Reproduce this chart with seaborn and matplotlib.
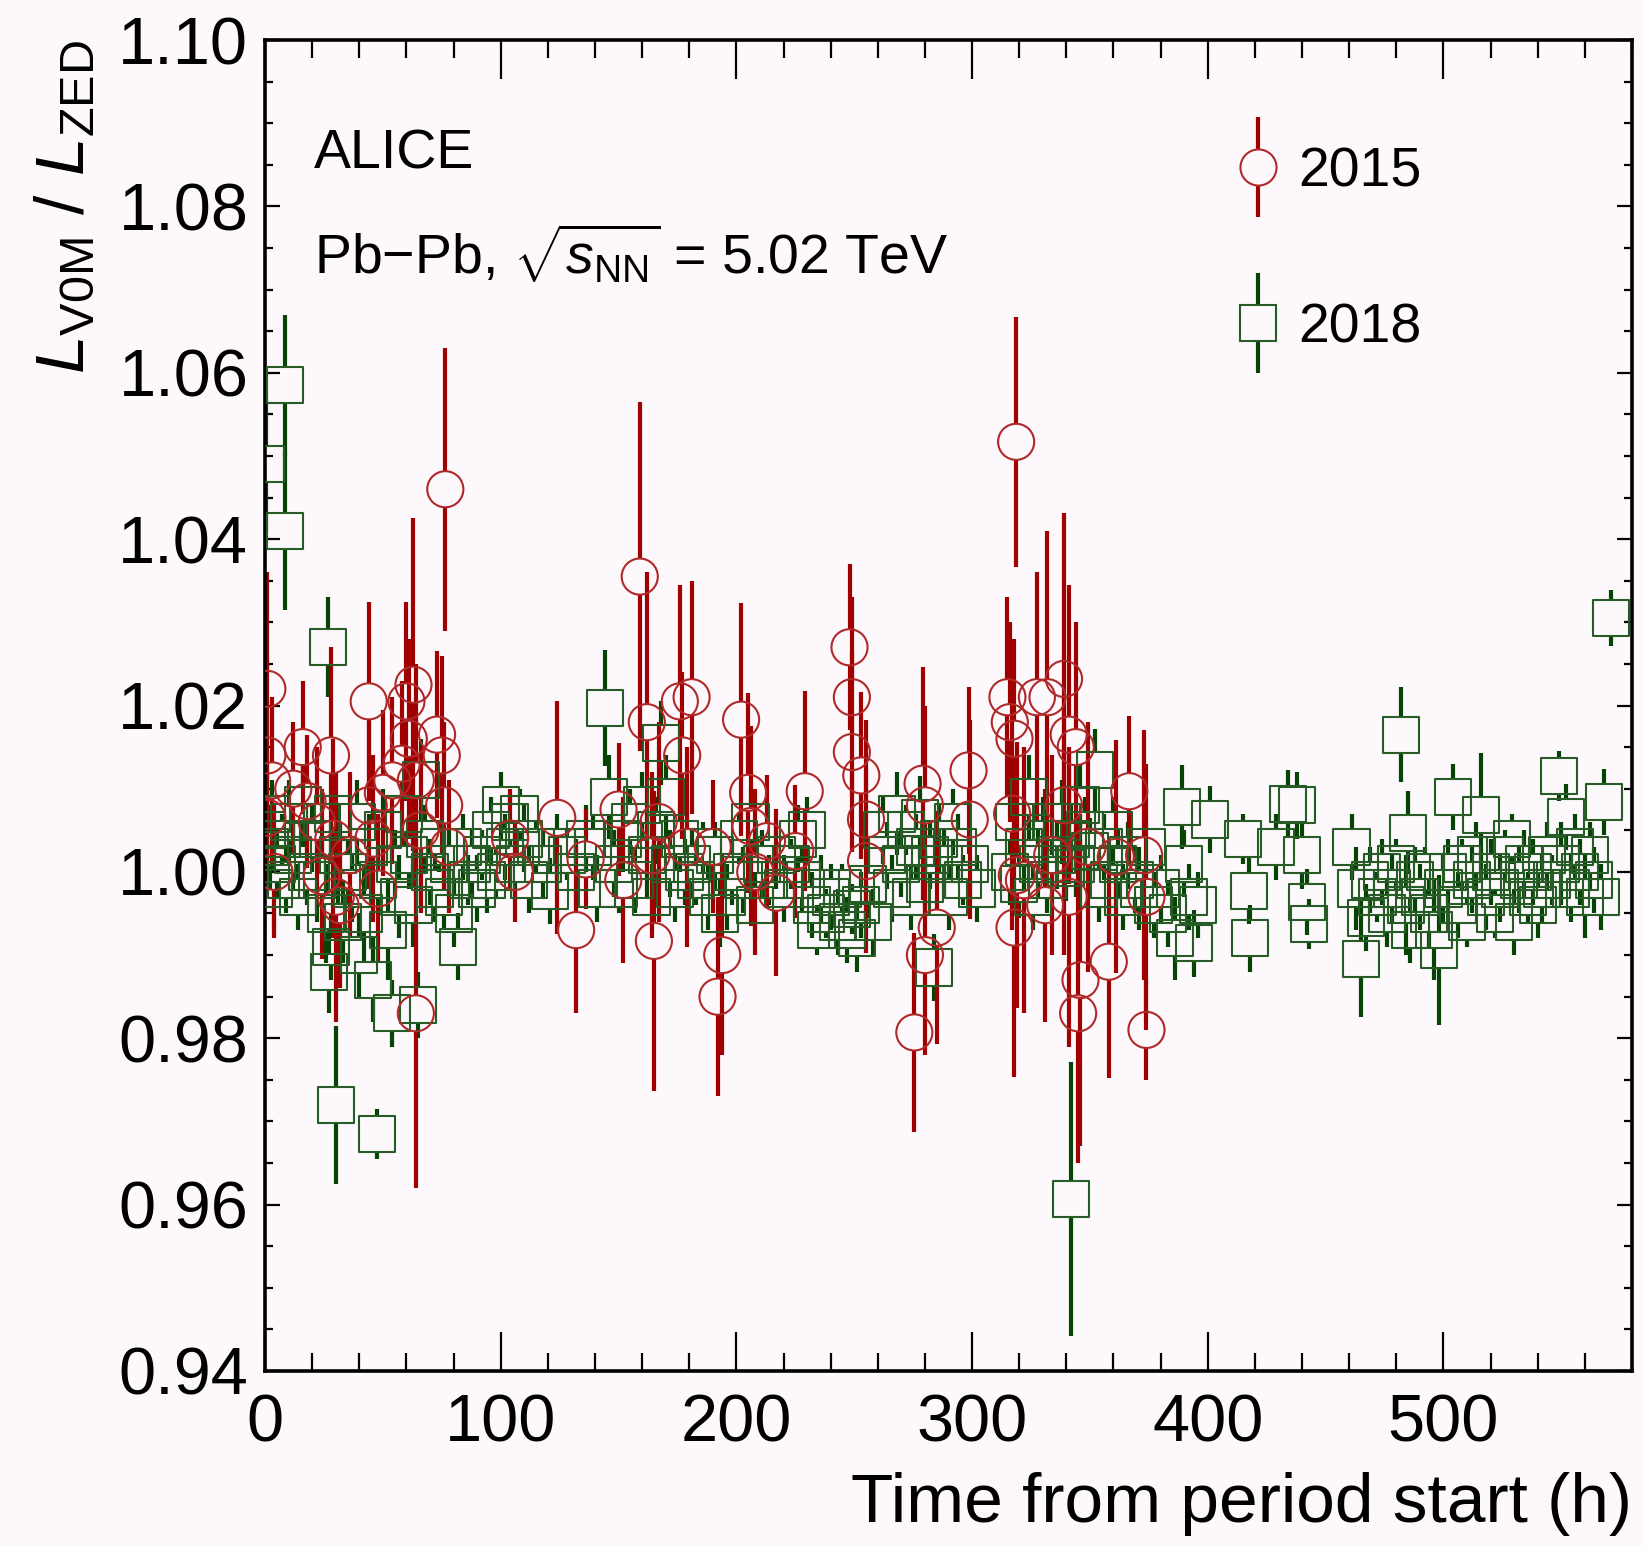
import numpy as np
import matplotlib
matplotlib.use("Agg")
import matplotlib.pyplot as plt
import seaborn as sns
from matplotlib.ticker import MultipleLocator, FormatStrFormatter
from matplotlib.legend_handler import HandlerErrorbar
from matplotlib.container import ErrorbarContainer

# ---------------- data: luminosity ratio V0M / ZED vs time ----------------
hours_2015 = [1, 1, 3, 1, 4, 12, 16, 18, 22, 24,
              28, 29, 30, 32, 36, 44, 44, 46, 48, 50,
              54, 58, 60, 61, 63, 64, 64, 66, 73, 75,
              76, 76.5, 78, 104, 106, 124, 132, 136, 150, 152,
              159, 162, 164, 165, 167, 176, 177, 179, 181, 190,
              192, 194, 202, 205, 206, 208, 213, 217, 225, 229,
              248, 249, 249, 253, 255, 255, 275.5, 279, 280, 280,
              285, 298.5, 299, 318.7, 315, 316, 318, 317, 319, 318,
              322, 327.5, 332, 331, 334, 339, 341, 344, 339, 341,
              346, 345, 349, 358, 361, 366.7, 373, 374, 374]
ratio_2015 = [1.022, 1.014, 1.011, 1.0065, 1.000, 1.010, 1.015, 1.0085, 1.006, 0.9995,
              1.014, 1.004, 0.997, 0.996, 1.002, 1.0205, 1.008, 1.004, 0.998, 1.0095,
              1.011, 1.013, 1.0205, 1.016, 1.0225, 1.011, 0.983, 1.005, 1.0165, 1.014,
              1.008, 1.046, 1.003, 1.004, 1.000, 1.0065, 0.993, 1.0015, 1.0075, 0.999,
              1.0355, 1.018, 1.002, 0.9917, 1.006, 1.0205, 1.014, 1.003, 1.021, 1.003,
              0.985, 0.990, 1.0183, 1.0095, 1.0055, 1.000, 1.0037, 0.9975, 1.0025, 1.0097,
              1.027, 1.021, 1.0144, 1.0116, 1.0063, 1.0013, 0.9807, 1.0106, 1.008, 0.990,
              0.9933, 1.0122, 1.0063, 1.0517, 1.021, 1.018, 1.016, 1.007, 0.9996, 0.9933,
              0.999, 1.021, 1.021, 0.996, 1.002, 1.0232, 1.0165, 1.015, 1.008, 0.997,
              0.987, 0.983, 1.003, 0.9892, 1.0018, 1.0097, 1.002, 0.997, 0.981]
err_2015 = [0.014, 0.012, 0.010, 0.008, 0.008, 0.008, 0.008, 0.008, 0.009, 0.010,
            0.013, 0.012, 0.015, 0.010, 0.010, 0.012, 0.010, 0.010, 0.009, 0.010,
            0.010, 0.010, 0.012, 0.012, 0.020, 0.014, 0.021, 0.010, 0.010, 0.012,
            0.010, 0.017, 0.008, 0.006, 0.006, 0.014, 0.010, 0.006, 0.008, 0.010,
            0.021, 0.018, 0.010, 0.018, 0.012, 0.014, 0.010, 0.012, 0.014, 0.008,
            0.012, 0.012, 0.014, 0.012, 0.012, 0.010, 0.008, 0.010, 0.008, 0.012,
            0.010, 0.012, 0.012, 0.010, 0.012, 0.011, 0.012, 0.014, 0.012, 0.012,
            0.014, 0.010, 0.012, 0.015, 0.012, 0.012, 0.012, 0.014, 0.016, 0.018,
            0.016, 0.015, 0.020, 0.014, 0.012, 0.020, 0.018, 0.015, 0.018, 0.018,
            0.020, 0.018, 0.015, 0.014, 0.014, 0.009, 0.015, 0.016, 0.006]

hours_2018 = [0.5, 8.4, 8.4, 1, 2, 3, 4, 5, 7, 9,
              10, 12, 14, 16, 18, 20, 22, 24, 26, 26.7,
              27, 28, 29, 30, 31, 33, 35, 37, 39, 40,
              42, 44, 46, 47.5, 48, 50, 52, 54, 55, 57,
              59, 61, 63, 65, 66, 68, 70, 72, 74, 76,
              78, 80, 82, 84, 86, 88, 90, 92, 94, 96,
              98, 100, 102, 104, 106, 108, 110, 112, 115, 118,
              121, 124, 128, 132, 136, 139, 141, 144.4, 146, 148,
              150, 152, 155, 157, 160, 162, 164, 166, 168, 170,
              172, 174, 176, 178, 181, 183, 186, 188, 191, 193,
              196, 198, 201, 203, 206, 208, 211, 214, 217, 220,
              223, 226, 228, 230, 232, 234, 236, 238, 240, 243,
              245, 247, 249, 251, 253, 256, 258, 262, 264, 266,
              268, 270, 272, 274, 276, 278, 280, 282, 284, 286,
              288, 290, 292, 294, 296, 299, 302, 316, 318, 320,
              322, 324, 326, 328, 330, 332, 334, 336, 338, 340,
              341.8, 342, 344, 346, 348, 350, 352, 354, 356, 358,
              360, 362, 364, 366, 369, 371, 374, 377, 380, 383,
              386, 389, 390, 392, 394, 396, 401, 415, 417.5, 418,
              429, 434, 438, 440, 442, 443, 461, 463, 465, 467,
              469, 472, 474, 476, 478, 480, 482, 484, 485, 486,
              488, 490, 492, 494, 496, 498, 500, 502, 504, 506,
              508, 510, 512, 514, 516, 518, 520, 522, 524, 526,
              529, 530, 532, 534, 536, 538, 540, 542, 544, 546,
              549, 550, 552, 554, 556, 558, 560, 562, 564, 567,
              568, 571]
ratio_2018 = [1.049, 1.0585, 1.041, 1.005, 1.003, 1.007, 0.998, 1.001, 1.004, 0.999,
              1.006, 1.002, 0.997, 1.008, 1.000, 1.004, 0.999, 1.006, 0.995, 1.027,
              0.988, 0.991, 1.007, 0.972, 1.002, 0.994, 1.000, 0.998, 1.006, 0.990,
              0.995, 1.003, 0.987, 0.9685, 0.999, 1.005, 0.993, 0.983, 1.001, 0.997,
              1.007, 1.002, 0.996, 0.984, 1.011, 1.004, 1.000, 0.998, 1.003, 0.997,
              1.001, 0.995, 0.991, 1.003, 0.999, 1.001, 0.998, 1.002, 0.999, 1.005,
              1.000, 1.008, 1.003, 1.006, 1.001, 1.007, 1.004, 0.999, 1.003, 1.001,
              0.9977, 1.003, 1.002, 1.000, 1.004, 1.003, 0.998, 1.0197, 1.009, 1.001,
              0.998, 1.004, 1.006, 0.999, 1.008, 1.002, 0.997, 1.005, 1.0155, 1.009,
              1.001, 0.998, 1.004, 1.000, 1.001, 0.999, 1.003, 0.997, 1.002, 0.995,
              0.997, 1.000, 1.004, 0.999, 1.006, 0.996, 1.001, 0.999, 1.002, 0.998,
              1.001, 1.004, 0.999, 1.005, 0.996, 0.993, 0.998, 0.995, 0.997, 0.994,
              0.998, 0.993, 0.9955, 0.992, 0.996, 0.9985, 0.994, 1.005, 1.002, 0.998,
              1.007, 1.001, 1.005, 0.997, 1.003, 1.0065, 0.9985, 1.002, 0.9885, 1.004,
              1.001, 0.997, 1.006, 1.003, 0.999, 1.001, 0.998, 1.000, 1.006, 0.9985,
              1.003, 1.009, 0.997, 1.001, 1.004, 0.999, 1.006, 1.002, 1.006, 1.0005,
              0.9607, 1.004, 1.001, 1.008, 1.005, 1.0025, 1.0122, 0.998, 1.003, 0.999,
              1.005, 1.001, 0.997, 1.002, 0.999, 0.998, 1.003, 0.996, 0.998, 0.995,
              0.992, 1.0078, 1.001, 0.997, 0.9914, 0.996, 1.0063, 1.004, 0.9977, 0.992,
              1.003, 1.0082, 1.008, 1.002, 0.9964, 0.9937, 1.003, 0.998, 0.9895, 0.9945,
              0.999, 0.997, 1.000, 0.995, 0.998, 1.001, 1.0165, 0.996, 1.0047, 0.993,
              0.999, 0.997, 1.000, 0.995, 0.993, 0.9906, 0.998, 1.000, 1.009, 0.996,
              1.001, 0.994, 0.999, 1.002, 1.0068, 0.997, 1.000, 0.995, 0.998, 1.002,
              1.004, 0.994, 0.999, 1.001, 0.997, 1.000, 0.996, 0.998, 1.002, 0.999,
              1.0115, 1.001, 1.0066, 0.998, 1.003, 1.000, 0.997, 1.002, 0.999, 0.997,
              1.0084, 1.0305]
err_2018 = [0.008, 0.0085, 0.0095, 0.004, 0.005, 0.004, 0.005, 0.004, 0.003, 0.004,
            0.005, 0.004, 0.004, 0.005, 0.004, 0.004, 0.005, 0.004, 0.006, 0.006,
            0.005, 0.004, 0.005, 0.0095, 0.006, 0.005, 0.004, 0.004, 0.005, 0.005,
            0.006, 0.004, 0.005, 0.003, 0.004, 0.005, 0.006, 0.004, 0.004, 0.005,
            0.004, 0.004, 0.005, 0.004, 0.005, 0.004, 0.004, 0.004, 0.003, 0.004,
            0.004, 0.004, 0.004, 0.004, 0.003, 0.004, 0.004, 0.003, 0.004, 0.004,
            0.003, 0.004, 0.004, 0.003, 0.004, 0.003, 0.004, 0.004, 0.003, 0.004,
            0.004, 0.004, 0.003, 0.004, 0.004, 0.004, 0.004, 0.007, 0.005, 0.004,
            0.003, 0.004, 0.004, 0.004, 0.004, 0.005, 0.004, 0.004, 0.005, 0.005,
            0.004, 0.004, 0.004, 0.004, 0.004, 0.003, 0.003, 0.004, 0.004, 0.004,
            0.004, 0.004, 0.003, 0.004, 0.004, 0.004, 0.004, 0.003, 0.004, 0.004,
            0.003, 0.004, 0.004, 0.004, 0.004, 0.003, 0.004, 0.003, 0.004, 0.004,
            0.003, 0.004, 0.003, 0.004, 0.004, 0.004, 0.004, 0.004, 0.004, 0.004,
            0.005, 0.004, 0.003, 0.004, 0.004, 0.005, 0.004, 0.004, 0.004, 0.004,
            0.004, 0.004, 0.004, 0.004, 0.003, 0.004, 0.004, 0.004, 0.004, 0.004,
            0.005, 0.005, 0.004, 0.004, 0.005, 0.004, 0.004, 0.004, 0.005, 0.004,
            0.0165, 0.004, 0.004, 0.005, 0.004, 0.004, 0.005, 0.004, 0.004, 0.004,
            0.004, 0.004, 0.004, 0.004, 0.004, 0.005, 0.004, 0.004, 0.004, 0.004,
            0.005, 0.005, 0.004, 0.004, 0.004, 0.004, 0.004, 0.003, 0.004, 0.004,
            0.004, 0.004, 0.004, 0.004, 0.004, 0.003, 0.004, 0.005, 0.007, 0.004,
            0.004, 0.003, 0.004, 0.004, 0.004, 0.003, 0.0057, 0.006, 0.005, 0.004,
            0.004, 0.004, 0.003, 0.004, 0.006, 0.009, 0.004, 0.004, 0.004, 0.004,
            0.003, 0.003, 0.004, 0.004, 0.0075, 0.004, 0.004, 0.003, 0.004, 0.003,
            0.003, 0.004, 0.004, 0.004, 0.003, 0.004, 0.004, 0.004, 0.004, 0.003,
            0.003, 0.005, 0.004, 0.004, 0.004, 0.004, 0.005, 0.004, 0.004, 0.004,
            0.004, 0.0034]

years = ["2015", "2018"]
x_ticks = [0, 100, 200, 300, 400, 500]
y_ticks = [0.94, 0.96, 0.98, 1.00, 1.02, 1.04, 1.06, 1.08, 1.10]

# ---------------- style ----------------
sns.set_theme(style="ticks")
plt.rcParams["font.family"] = ["Liberation Sans", "DejaVu Sans"]
plt.rcParams["mathtext.fontset"] = "custom"
plt.rcParams["mathtext.rm"] = "Liberation Sans"
plt.rcParams["mathtext.it"] = "Liberation Sans:italic"
plt.rcParams["mathtext.bf"] = "Liberation Sans:bold"
plt.rcParams["axes.unicode_minus"] = True
plt.rcParams["text.color"] = "black"
plt.rcParams["axes.labelcolor"] = "black"
plt.rcParams["legend.labelcolor"] = "black"

BG = "#fdf8fc"
RED = "#a00000"
RED_EDGE = "#b02828"
GREEN = "#064406"
GREEN_EDGE = "#275c27"
MS = 26          # marker size in points
LW_BAR = 3.0
LW_EDGE = 1.5

fig = plt.figure(figsize=(16.44, 15.46), dpi=100, facecolor=BG)
ax = fig.add_axes([0.1612, 0.1132, 0.8315, 0.8609])
ax.set_facecolor(BG)
ax.set_xlim(0, 580)
ax.set_ylim(y_ticks[0], y_ticks[-1])

# half marker size expressed in data units: error bars start at the marker edge
px_per_unit = (ax.transData.transform((0, 1.0))[1] - ax.transData.transform((0, 0.99))[1]) / 0.01
gap = (MS / 2 * fig.dpi / 72) / px_per_unit


def draw_bars(h, r, e, color):
    h, r, e = map(np.asarray, (h, r, e))
    m = e > gap
    ax.vlines(h[m], r[m] + gap, r[m] + e[m], color=color, lw=LW_BAR, zorder=2)
    ax.vlines(h[m], r[m] - e[m], r[m] - gap, color=color, lw=LW_BAR, zorder=2)


draw_bars(hours_2018, ratio_2018, err_2018, GREEN)
sns.scatterplot(x=hours_2018, y=ratio_2018, marker="s", s=MS ** 2, color=GREEN_EDGE,
                facecolor="none", edgecolor=GREEN_EDGE, linewidth=LW_EDGE,
                ax=ax, zorder=3, legend=False)
draw_bars(hours_2015, ratio_2015, err_2015, RED)
sns.scatterplot(x=hours_2015, y=ratio_2015, marker="o", s=MS ** 2, color=RED_EDGE,
                facecolor="none", edgecolor=RED_EDGE, linewidth=LW_EDGE,
                ax=ax, zorder=4, legend=False)

# legend entries: marker with a vertical error bar
h15 = ax.errorbar([np.nan], [np.nan], yerr=[0.01], fmt="o", ms=MS, mfc=BG, mec=RED_EDGE,
                  mew=LW_EDGE, ecolor=RED, elinewidth=LW_BAR, capsize=0, label=years[0])
h18 = ax.errorbar([np.nan], [np.nan], yerr=[0.01], fmt="s", ms=MS, mfc=BG, mec=GREEN_EDGE,
                  mew=LW_EDGE, ecolor=GREEN, elinewidth=LW_BAR, capsize=0, label=years[1])
leg = ax.legend(handles=[h15, h18],
                handler_map={ErrorbarContainer: HandlerErrorbar(yerr_size=0.9)},
                loc="upper left", bbox_to_anchor=(0.69, 0.937), frameon=False, fontsize=40,
                handlelength=1.0, handletextpad=0.22, labelspacing=1.88, borderaxespad=0)
for t in leg.get_texts():
    t.set_color("black")

ax.set_xlim(0, 580)
ax.set_ylim(y_ticks[0], y_ticks[-1])

# axes, ticks
ax.set_xticks(x_ticks)
ax.set_yticks(y_ticks)
ax.xaxis.set_minor_locator(MultipleLocator(20))
ax.yaxis.set_minor_locator(MultipleLocator(0.005))
ax.yaxis.set_major_formatter(FormatStrFormatter("%.2f"))
ax.tick_params(axis="x", which="major", direction="in", length=28, width=1.6,
               top=True, bottom=True, labelsize=48, pad=16, colors="black")
ax.tick_params(axis="x", which="minor", direction="in", length=13, width=1.6,
               top=True, bottom=True, colors="black")
ax.tick_params(axis="y", which="major", direction="in", length=11, width=1.6,
               left=True, right=True, labelsize=48, pad=12, colors="black")
ax.tick_params(axis="y", which="minor", direction="in", length=5.5, width=1.6,
               left=True, right=True, colors="black")
for s in ax.spines.values():
    s.set_linewidth(2.6)
    s.set_color("black")
ax.grid(False)

ax.set_xlabel("Time from period start (h)", fontsize=50, loc="right", color="black")
ax.xaxis.set_label_coords(1.0, -0.076)
ax.set_ylabel(r"$L_{\rm V0M}$ / $L_{\rm ZED}$", fontsize=50, loc="top", color="black")
ax.yaxis.set_label_coords(-0.122, 1.0)

ax.text(0.036, 0.914, "ALICE", transform=ax.transAxes, fontsize=40,
        ha="left", va="center", color="black")
ax.text(0.036, 0.839, r"Pb$-$Pb, $\sqrt{s_{\rm NN}}$ = 5.02 TeV", transform=ax.transAxes,
        fontsize=40, ha="left", va="center", color="black")

fig.savefig("out.png", dpi=100, facecolor=BG)
